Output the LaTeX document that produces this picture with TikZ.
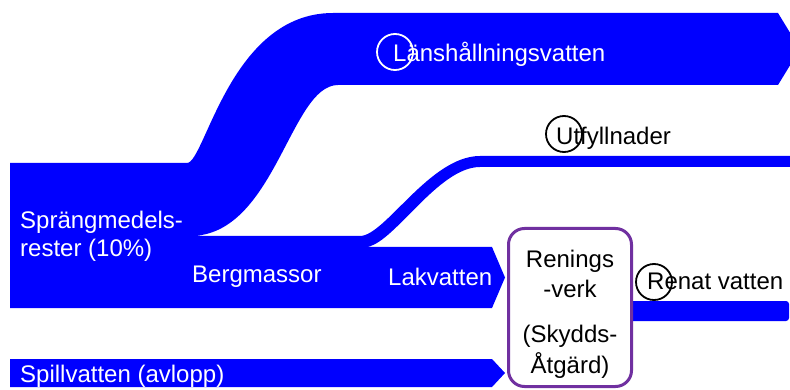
\documentclass[tikz,border=0pt]{standalone}
\usepackage{fontspec}
\setmainfont{Liberation Sans}
\definecolor{flow}{RGB}{0,0,255}
\definecolor{rpurple}{RGB}{112,48,160}
\begin{document}
\begin{tikzpicture}[x=1pt,y=-1pt,
  lbl/.style={inner sep=0pt, anchor=base west, font=\fontsize{24}{31}\selectfont},
  wlbl/.style={lbl, text=white},
  clbl/.style={inner sep=0pt, anchor=base, font=\fontsize{24}{31}\selectfont},
  markring/.style={circle, draw, line width=1.8pt, minimum size=36pt, inner sep=0pt},
  band/.style={fill=flow, draw=none}]
\useasboundingbox (0,0) rectangle (790,390);
\clip (0,0) rectangle (790,390);
% main flow: Sprängmedelsrester / Bergmassor / Länshållningsvatten / Utfyllnader / Lakvatten
\fill[band] (10,163) -- (187,163)
  .. controls (205,163) and (230,13) .. (333,13)
  -- (778,13) -- (800,49) -- (778,85) -- (338,85)
  .. controls (290,85) and (275,236) .. (190,236)
  -- (360,236)
  .. controls (385,236) and (430,156) .. (480,156)
  -- (790,156) -- (790,167) -- (480,167)
  .. controls (437,167) and (392,247) .. (365,247)
  -- (492,247) -- (505,277.5) -- (492,308) -- (10,308) -- cycle;
% Spillvatten
\fill[band] (10,359) -- (492,359) -- (505,373) -- (492,387) -- (10,387) -- cycle;
% Renat vatten
\fill[band, rounded corners=3pt] (620,301) -- (789,301) -- (789,321) -- (620,321) -- cycle;
% Reningsverk box
\node[draw=rpurple, line width=3pt, rounded corners=16pt, fill=white,
      minimum width=123pt, minimum height=158pt, inner sep=0pt] (rening) at (570,307.5) {};
\node[clbl] (r1) at (570,267) {Renings};
\node[clbl] (r2) at (570,298) {-verk};
\node[clbl] (r3) at (570,342) {(Skydds-};
\node[clbl] (r4) at (570,373) {Åtgärd)};
% labels
\node[wlbl] (lans) at (393,62) {Länshållningsvatten};
\node[lbl] (utf) at (556,145) {Utfyllnader};
\node[lbl] (renat) at (647,290) {Renat vatten};
\node[wlbl] (spr1) at (20,229) {Sprängmedels-};
\node[wlbl] (spr2) at (20,257) {rester (10\%)};
\node[wlbl] (berg) at (192,283) {Bergmassor};
\node[wlbl] (lak) at (388,285) {Lakvatten};
\node[wlbl] (spill) at (20,382) {Spillvatten (avlopp)};
% marker rings
\node[markring, draw=white] (m1) at (395,52) {};
\node[markring, draw=black] (m2) at (564,134) {};
\node[markring, draw=black] (m3) at (654,282) {};
\end{tikzpicture}
\end{document}
